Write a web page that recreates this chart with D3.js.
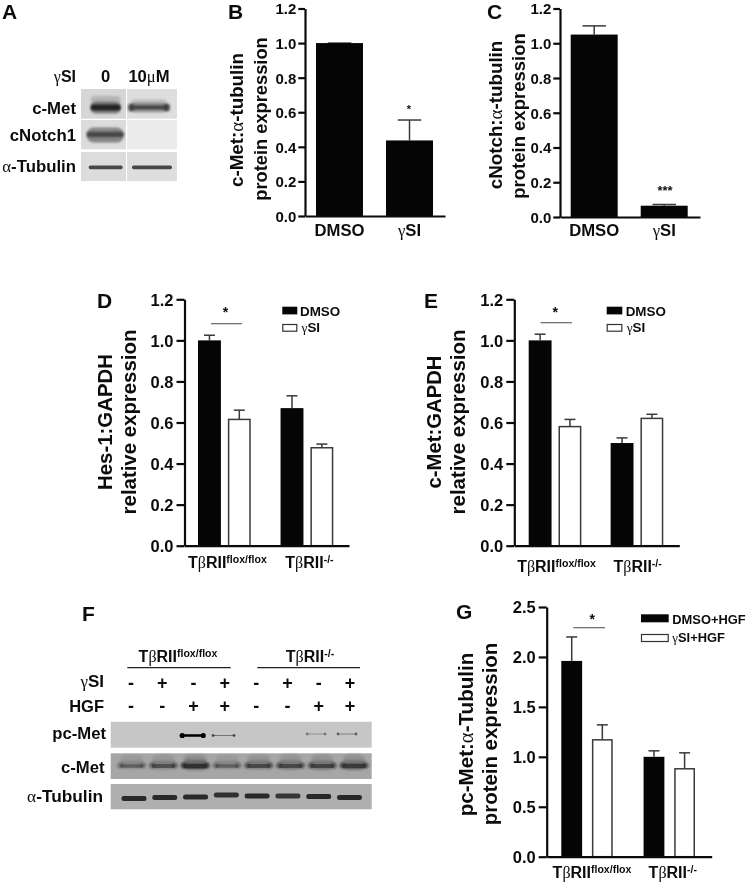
<!DOCTYPE html>
<html><head><meta charset="utf-8">
<script src="https://cdn.jsdelivr.net/npm/d3@7"></script>
<style>
html,body{margin:0;padding:0;background:#fff}
svg{display:block;filter:blur(0.3px)}
text{font-family:"Liberation Sans",Arial,sans-serif;font-weight:700;fill:#0c0c0c}
</style></head><body>
<svg id="fig" width="750" height="882"></svg>
<script>
// ---------- values ----------
const panelBCats = ["DMSO","γSI"];
const panelBVals = [1.0,0.437];
const panelBErrTop = [1.0,0.555];
const panelCCats = ["DMSO","γSI"];
const panelCVals = [1.05,0.065];
const panelCErrTop = [1.10,0.072];

const groups = ["TβRII^flox/flox","TβRII^-/-"];
const seriesDE = ["DMSO","γSI"];
const seriesG = ["DMSO+HGF","γSI+HGF"];
const panelDVals = [[1.0,0.615],[0.67,0.477]];
const panelDErrTop = [[1.025,0.66],[0.73,0.495]];
const panelEVals = [[1.0,0.58],[0.50,0.62]];
const panelEErrTop = [[1.03,0.615],[0.525,0.64]];
const panelGVals = [[1.96,1.17],[1.0,0.88]];
const panelGErrTop = [[2.2,1.32],[1.06,1.04]];
const ticks12 = [0,0.2,0.4,0.6,0.8,1.0,1.2];
const ticks25 = [0,0.5,1.0,1.5,2.0,2.5];

// blot band strengths
const aLanes = ["0","10μM"];
const aRows = ["c-Met","cNotch1","α-Tubulin"];
const aCMet = [1,0.72];
const aNotch = [0.85,0];
const aTub = [0.8,0.8];
const fLanes = [1,2,3,4,5,6,7,8];
const fRows = ["pc-Met","c-Met","α-Tubulin"];
const siSigns = ["-","+","-","+","-","+","-","+"];
const hgfSigns = ["-","-","+","+","-","-","+","+"];
const fPcMet = [0,0,1,0.35,0,0,0.22,0.3];
const fCMet = [0.42,0.55,0.9,0.42,0.62,0.62,0.65,0.75];
const fTub = [0.85,0.85,0.85,0.8,0.85,0.75,0.85,0.85];

// ---------- helpers ----------
const svg = d3.select("#fig");
const defs = svg.append("defs");
[["b06",0.6],["b1",1],["b2",2],["b3",3]].forEach(([id,s])=>{
  defs.append("filter").attr("id",id).attr("x","-30%").attr("y","-150%").attr("width","160%").attr("height","400%")
    .append("feGaussianBlur").attr("stdDeviation",s);
});
function rich(t,str,opts={}){
  const supSize = opts.sup||0.65;
  const [main,sup] = str.split("^");
  main.split(/([γαβμ])/).filter(s=>s.length).forEach(s=>{
    const sp=t.append("tspan").text(s);
    if(/[γαβμ]/.test(s)) sp.style("font-family",'"Liberation Serif",serif').style("font-weight","400");
  });
  if(sup) t.append("tspan").text(sup).attr("dy","-0.42em").style("font-size",(supSize*100)+"%");
  return t;
}
function label(x,y,str,size,anchor="start",opts={}){
  const t=svg.append("text").attr("x",x).attr("y",y).attr("font-size",size).attr("text-anchor",anchor);
  return rich(t,str,opts);
}
function rotLabel(x,y,str,size){
  const t=svg.append("text").attr("transform",`translate(${x},${y}) rotate(-90)`).attr("font-size",size).attr("text-anchor","middle");
  return rich(t,str);
}
function yAxis(g,y,x,tickVals,size,tick,pad){
  const a=g.append("g").attr("transform",`translate(${x},0)`)
    .call(d3.axisLeft(y).tickValues(tickVals).tickFormat(d3.format(".1f")).tickSize(tick).tickPadding(pad).tickSizeOuter(0));
  a.selectAll("path,line").attr("stroke","#0a0a0a").attr("stroke-width",2.2);
  a.selectAll("text").attr("font-size",size).attr("dy","0.36em").style("font-family",'"Liberation Sans",Arial,sans-serif');
  a.attr("font-family",null);
}
function xAxisLine(g,x0,x1,yy){
  const s=d3.scaleLinear().range([x0,x1]);
  const a=g.append("g").attr("transform",`translate(0,${yy})`).call(d3.axisBottom(s).tickValues([]).tickSizeOuter(0));
  a.selectAll("path").attr("stroke","#0a0a0a").attr("stroke-width",2.2);
}
function errBar(g,xc,y0,y1,cap){
  g.append("line").attr("x1",xc).attr("x2",xc).attr("y1",y0).attr("y2",y1).attr("stroke","#3a3a3a").attr("stroke-width",1.5);
  g.append("line").attr("x1",xc-cap/2).attr("x2",xc+cap/2).attr("y1",y1).attr("y2",y1).attr("stroke","#3a3a3a").attr("stroke-width",1.5);
}

// ---------- single-series panels B, C ----------
function simplePanel(o){
  const g=svg.append("g");
  const y=d3.scaleLinear().domain([0,1.2]).range([o.yB,o.yT]);
  const x=d3.scaleBand().domain(o.cats).range(o.xr).paddingInner(0.329).paddingOuter(0);
  o.cats.forEach((c,i)=>{
    errBar(g,x(c)+x.bandwidth()/2,y(o.vals[i]),y(o.err[i]),23.5);
    g.append("rect").attr("x",x(c)).attr("width",x.bandwidth()).attr("y",y(o.vals[i])).attr("height",y(0)-y(o.vals[i])).attr("fill","#050505");
    label(x(c)+x.bandwidth()/2,o.catY,c,o.catSize,"middle");
  });
  yAxis(g,y,o.axisX,ticks12,15,6.7,2);
  xAxisLine(g,o.axisX,o.xEnd,y(0));
}
simplePanel({cats:panelBCats,vals:panelBVals,err:panelBErrTop,yB:216,yT:8.5,xr:[316,433],axisX:305,xEnd:445,catY:236,catSize:16.7});
simplePanel({cats:panelCCats,vals:panelCVals,err:panelCErrTop,yB:217,yT:8.5,xr:[570.7,687.7],axisX:560,xEnd:700,catY:236,catSize:16.7});
rotLabel(243,120,"c-Met:α-tubulin",18.8);
rotLabel(267,119,"protein expression",18.3);
rotLabel(502,115,"cNotch:α-tubulin",18.8);
rotLabel(525,116,"protein expression",18.5);
label(409,113,"*",11,"middle");
label(665,195,"***",12.9,"middle");

// ---------- grouped panels D, E, G ----------
function groupedPanel(o){
  const g=svg.append("g");
  const y=d3.scaleLinear().domain(o.domain).range([o.yB,o.yT]);
  const x0=d3.scaleBand().domain(groups).range(o.xr).paddingInner(o.gp).paddingOuter(0);
  const x1=d3.scaleBand().domain(o.series).range([0,x0.bandwidth()]).paddingInner(o.sp).paddingOuter(0);
  groups.forEach((gr,i)=>{
    o.series.forEach((s,j)=>{
      const bx=x0(gr)+x1(s), bw=x1.bandwidth(), v=o.vals[i][j];
      errBar(g,bx+bw/2,y(v),y(o.err[i][j]),o.cap);
      const inset=j?0.75:0;
      g.append("rect").attr("x",bx+inset).attr("width",bw-2*inset).attr("y",y(v)).attr("height",y(0)-y(v))
        .attr("fill",j?"#fff":"#050505").attr("stroke",j?"#3a3a3a":"none").attr("stroke-width",j?1.5:0);
    });
    label(x0(gr)+x0.bandwidth()/2+o.labDx[i],o.labY,gr,16,"middle",{sup:0.66});
  });
  yAxis(g,y,o.axisX,o.ticks,16.5,8,3);
  xAxisLine(g,o.axisX,o.xEnd,y(0));
  // significance
  g.append("line").attr("x1",o.sig[0]).attr("x2",o.sig[1]).attr("y1",o.sig[2]).attr("y2",o.sig[2]).attr("stroke","#666").attr("stroke-width",1.2);
  label((o.sig[0]+o.sig[1])/2+o.starDx,o.sig[3],"*",14,"middle");
  // legend
  o.series.forEach((s,j)=>{
    const L=o.leg;
    g.append("rect").attr("x",L.x+(j?0.5:0)).attr("y",L.ys[j]+(j?0.5:0)).attr("width",L.w-(j?1:0)).attr("height",L.h-(j?1:0))
      .attr("fill",j?"#fff":"#050505").attr("stroke",j?"#333":"none").attr("stroke-width",j?1.2:0);
    label(L.tx+(j?L.g:0),L.base[j],s,L.size);
  });
}
groupedPanel({domain:[0,1.2],ticks:ticks12,vals:panelDVals,err:panelDErrTop,series:seriesDE,yB:545.7,yT:299.3,xr:[198,333.3],gp:0.361,sp:0.233,axisX:184.5,xEnd:349,cap:11,labY:567.5,labDx:[3,2.5],
  sig:[211,242,323.7,317],starDx:-1,leg:{x:282.3,w:15,h:7.7,ys:[306.7,324],tx:300,g:1.5,base:[316,331.5],size:13.4}});
groupedPanel({domain:[0,1.2],ticks:ticks12,vals:panelEVals,err:panelEErrTop,series:seriesDE,yB:545.7,yT:299.3,xr:[528.7,663.3],gp:0.357,sp:0.233,axisX:514.3,xEnd:679.3,cap:11,labY:571.5,labDx:[1.5,0.7],
  sig:[540.7,572,322.7,317],starDx:-1,leg:{x:606.7,w:15.6,h:7.7,ys:[306.7,324],tx:625.7,g:1,base:[316,331.5],size:13.4}});
groupedPanel({domain:[0,2.5],ticks:ticks25,vals:panelGVals,err:panelGErrTop,series:seriesG,yB:856.7,yT:607,xr:[561.3,695],gp:0.375,sp:0.32,axisX:546.7,xEnd:711.7,cap:11,labY:877.5,labDx:[5,3.5],
  sig:[573.3,605,627.7,623.5],starDx:3,leg:{x:641,w:27.7,h:8,ys:[614.3,634],tx:672.3,g:0,base:[623.7,641.5],size:12.9}});
rotLabel(111.7,422,"Hes-1:GAPDH",20.4);
rotLabel(136,422,"relative expression",20.4);
rotLabel(441,422,"c-Met:GAPDH",20.3);
rotLabel(465,422,"relative expression",20.4);
rotLabel(473,734.5,"pc-Met:α-Tubulin",20.6);
rotLabel(497,734,"protein expression",20.4);

// ---------- panel letters ----------
[["A",2,19],["B",228,19],["C",487,19],["D",97,308],["E",424,308],["F",82,621],["G",456,619]].forEach(([s,x,yy])=>{
  svg.append("text").attr("x",x).attr("y",yy).attr("font-size",21).text(s);
});

// ---------- blot A ----------
function blotBg(x,y,w,h,col){ svg.append("rect").attr("x",x).attr("y",y).attr("width",w).attr("height",h).attr("fill",col); }
function band(clip,x0,x1,yy,th,col,op,filter){
  clip.append("rect").attr("x",x0).attr("y",yy-th/2).attr("width",x1-x0).attr("height",th).attr("rx",th/2.2)
    .attr("fill",col).attr("opacity",op).attr("filter",filter);
}
const clipRow=(id,x,y,w,h)=>{
  defs.append("clipPath").attr("id",id).append("rect").attr("x",x).attr("y",y).attr("width",w).attr("height",h);
  return svg.append("g").attr("clip-path",`url(#${id})`);
};
const aX=d3.scalePoint().domain(aLanes).range([105.7,149]);
[[89,29.7],[120,29.3],[152,29]].forEach((r,i)=>{
  blotBg(81,r[0],45,r[1],["#d6d6d6","#dcdcdc","#dcdcdc"][i]);
  blotBg(127,r[0],50,r[1],["#dedede","#ececec","#dedede"][i]);
});
const gA=clipRow("ca",81,89,96,92);
aLanes.forEach((l,i)=>{
  const hw=i?18:15;
  // c-Met: smear above, then the dense band
  band(gA,aX(l)-hw,aX(l)+hw,i?103:100,i?8:8,"#999",aCMet[i]*0.55,"url(#b1)");
  band(gA,aX(l)-hw,aX(l)+hw,107.5,i?10:12,"#6a6a6a",aCMet[i]*0.8,"url(#b1)");
  band(gA,aX(l)-hw,aX(l)+hw,107.5,i?4:6,"#222",aCMet[i],"url(#b1)");
  if(i){[-1,1].forEach(d=>band(gA,aX(l)+d*hw-3,aX(l)+d*hw+3,107.5,8,"#333",0.8,"url(#b1)"));}
  // cNotch1
  if(aNotch[i]>0){
    band(gA,aX(l)-19,aX(l)+18,135,15,"#777",aNotch[i],"url(#b1)");
    band(gA,aX(l)-19,aX(l)+18,134.5,5,"#3a3a3a",aNotch[i],"url(#b1)");
  }
  // Tubulin
  band(gA,aX(l)-(i?17:17),aX(l)+(i?23:17),167.3,3.8,"#222",aTub[i],"url(#b06)");
});
aLanes.forEach(l=>label(aX(l),82,l,16.6,"middle"));
label(76,82,"γSI",16,"end");
aRows.forEach((r,i)=>label(76,[114,141,172][i],r,16.8,"end"));

// ---------- blot F ----------
const signX=d3.scalePoint().domain(fLanes).range([131,350]);
const tubX=d3.scalePoint().domain(fLanes).range([134,349.5]);
const metX=d3.scalePoint().domain(fLanes).range([131.7,354]);
const pcX=d3.scalePoint().domain(fLanes).range([131,347]);
[[721.7,26,"#c6c6c6"],[753.3,25.7,"#a6a6a6"],[784,25.3,"#afafaf"]].forEach(r=>blotBg(110.7,r[0],261,r[1],r[2]));
const gF=clipRow("cf",110.7,721.7,261,88);
const tubTilt=[1.5,0.5,0,-2,-1,-1,-0.5,0.5];
fLanes.forEach((l,i)=>{
  if(fPcMet[i]>0){
    const c=pcX(l), hw=i<4?10.5:9, yy=i<4?735.5:734, col=i==2?"#000":"#222";
    band(gF,c-hw,c+hw,yy,i==2?2.6:1,col,Math.min(1,fPcMet[i]*1.4),"url(#b06)");
    [-1,1].forEach(d=>gF.append("circle").attr("cx",c+d*hw).attr("cy",yy).attr("r",i==2?2.6:1.4).attr("fill",col).attr("opacity",Math.min(1,fPcMet[i]*2)).attr("filter","url(#b06)"));
  }
  const c=metX(l), hw=11.5;
  // smear plus dense band
  band(gF,c-hw,c+hw,i>=5?762:761,i>=5?16:13,"#777",fCMet[i]*0.55,"url(#b1)");
  band(gF,c-hw,c+hw,765,6+fCMet[i]*5,"#555",fCMet[i]*0.7,"url(#b1)");
  [-1,1].forEach(d=>band(gF,c+d*hw-3,c+d*hw+3,765.5,6,"#333",fCMet[i],"url(#b1)"));
  band(gF,c-hw,c+hw,766,2.5+fCMet[i]*2.5,"#2a2a2a",fCMet[i],"url(#b06)");
  const t=tubX(l);
  band(gF,t-12.5,t+12.5,797+tubTilt[i],5,"#202020",fTub[i]+0.1,"url(#b06)");
});
fLanes.forEach((l,i)=>{
  label(signX(l),689,siSigns[i],18,"middle");
  label(signX(l),711.5,hgfSigns[i],18,"middle");
});
label(104,687.3,"γSI",17,"end");
label(104,711.7,"HGF",16.5,"end");
fRows.forEach((r,i)=>label(106-i*1.5,[739,772.7,801.7][i],r,[16.7,16.7,17.3][i],"end"));
label(178,661.7,groups[0],16,"middle",{sup:0.66});
label(310,661.7,groups[1],16,"middle",{sup:0.66});
[[127.3,230.7],[257.3,360]].forEach(([a,b])=>svg.append("line").attr("x1",a).attr("x2",b).attr("y1",667.7).attr("y2",667.7).attr("stroke","#222").attr("stroke-width",1.3));
</script>
</body></html>
